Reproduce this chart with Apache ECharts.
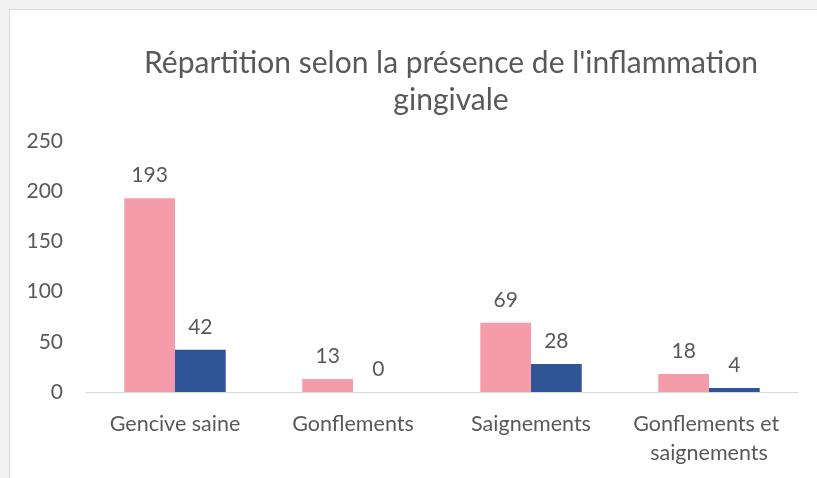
<!DOCTYPE html>
<html>
<head>
<meta charset="utf-8">
<script src="https://cdn.jsdelivr.net/npm/echarts@6/dist/echarts.min.js"></script>
<style>
  html, body { margin: 0; padding: 0; background: #f2f2f2; overflow: hidden; }
  #frame { position: absolute; left: 9px; top: 9px; width: 820px; height: 480px;
           background: #fff; border: 1px solid #d9d9d9; }
  #chart { position: absolute; left: 0; top: 0; width: 807px; height: 468px; }
</style>
</head>
<body>
<div id="frame"><div id="chart"></div></div>
<script>
// données
const titre = "Répartition selon la présence de l'inflammation\ngingivale";
const categories = ['Gencive saine', 'Gonflements', 'Saignements', 'Gonflements et saignements'];
const serieRose = [193, 13, 69, 18];
const serieBleue = [42, 0, 28, 4];
const yTicks = { min: 0, max: 250, interval: 50 };

const police = 'Lato, "Open Sans", sans-serif';
const gris = '#595959';

const chart = echarts.init(document.getElementById('chart'));

const labelBarre = {
  show: true,
  position: 'top',
  distance: 12,
  color: gris,
  fontSize: 21,
  fontFamily: police
};

chart.setOption({
  animation: false,
  title: {
    text: titre,
    left: 436,
    top: 30,
    textAlign: 'center',
    textStyle: {
      color: gris,
      fontSize: 30,
      fontWeight: 'normal',
      fontFamily: police,
      lineHeight: 37
    }
  },
  grid: { left: 76, right: 19, top: 131, bottom: 86 },
  xAxis: {
    type: 'category',
    data: categories,
    axisLine: { lineStyle: { color: '#d9d9d9', width: 1 } },
    axisTick: { show: false },
    axisLabel: {
      color: gris,
      fontSize: 21.5,
      fontFamily: police,
      margin: 18,
      lineHeight: 29,
      width: 170,
      overflow: 'break',
      interval: 0
    }
  },
  yAxis: {
    type: 'value',
    min: yTicks.min,
    max: yTicks.max,
    interval: yTicks.interval,
    axisLine: { show: false },
    axisTick: { show: false },
    splitLine: { show: false },
    axisLabel: { color: gris, fontSize: 21, fontFamily: police, margin: 23 }
  },
  series: [
    {
      name: 'A',
      type: 'bar',
      data: serieRose,
      barGap: '0%',
      barCategoryGap: '43%',
      itemStyle: { color: '#f49ca9' },
      label: labelBarre
    },
    {
      name: 'B',
      type: 'bar',
      data: serieBleue,
      itemStyle: { color: '#2f5597' },
      label: labelBarre
    }
  ]
});
</script>
</body>
</html>
